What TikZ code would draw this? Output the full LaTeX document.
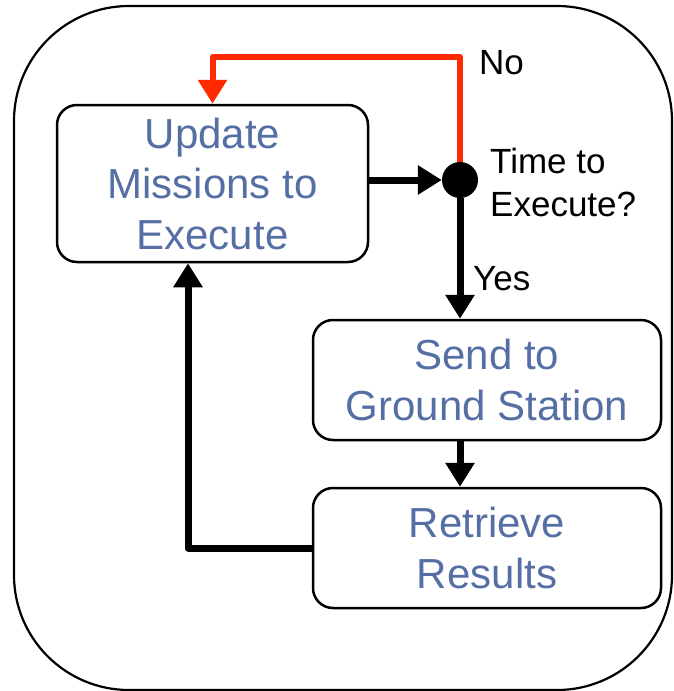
\documentclass[tikz,border=0pt]{standalone}
\usepackage{fontspec}
\setmainfont{Liberation Sans}
\usetikzlibrary{arrows.meta}
\definecolor{txtblue}{RGB}{85,111,165}
\definecolor{nored}{RGB}{255,42,0}
\begin{document}
\begin{tikzpicture}[x=1pt,y=-1pt,
 box/.style={draw, line width=2.5pt, rounded corners=20pt, align=center, text=txtblue, font=\fontsize{42}{50.5}\selectfont, inner sep=0pt},
 lbl/.style={font=\fontsize{35}{43}\selectfont, align=left, inner sep=0pt},
 arr/.style={line width=7pt, line join=round, -{Triangle[width=28pt,length=24pt]}},
]
\useasboundingbox (0,0) rectangle (673,691);
\draw[line width=2.2pt, rounded corners=115pt] (14,6) rectangle (672,690);
\node[box, minimum width=311pt, minimum height=157pt] (u) at (212.5,183.5) {Update\\Missions to\\Execute};
\node[box, minimum width=348pt, minimum height=120pt] (s) at (487,380) {Send to\\Ground Station};
\node[box, minimum width=348pt, minimum height=120pt] (r) at (487,548) {Retrieve\\Results};
\node[circle, fill, minimum size=36pt, inner sep=0pt] (d) at (460,180) {};
\coordinate (top) at (460,57);
\coordinate (fb) at (188,400);
\draw[arr] (u.east |- d.west) -- (d.west);
\draw[arr] (d.south) -- (d.south |- s.north);
\draw[arr] (s.south -| d) -- (r.north -| d);
\draw[arr] (r.west) -| (u.south -| fb);
\draw[arr, nored, line width=6pt] (d.north) -- (top) -| (u.north);
\node[lbl, anchor=west] (no) at (479,63) {No};
\node[lbl, anchor=west] (te) at (490,182) {Time to\\Execute?};
\node[lbl, anchor=west] (yes) at (473,279) {Yes};
\end{tikzpicture}
\end{document}
